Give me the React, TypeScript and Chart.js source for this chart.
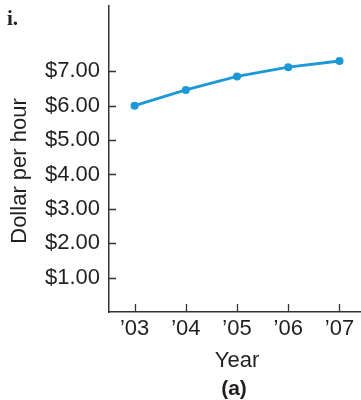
import React, { useEffect, useRef } from "react";
import { Chart, registerables } from "chart.js";

Chart.register(...registerables);

const years = [2003, 2004, 2005, 2006, 2007];
const yearLabels = ["\u201903", "\u201904", "\u201905", "\u201906", "\u201907"];
const wages = [6.0, 6.46, 6.85, 7.12, 7.3];
const yTickValues = [1, 2, 3, 4, 5, 6, 7];
const yTickLabels = ["$1.00", "$2.00", "$3.00", "$4.00", "$5.00", "$6.00", "$7.00"];

const TEXT = "#231f20";
const AXIS = "#333333";
const BLUE = "rgb(27,152,214)";
const SANS = "'Liberation Sans', Arial, sans-serif";

const decorPlugin = {
  id: "decor",
  afterDraw(chart: any) {
    const { ctx, scales } = chart;
    const xs = scales.x;
    const ys = scales.y;
    ctx.save();
    // inward tick marks
    ctx.strokeStyle = AXIS;
    ctx.lineWidth = 1.3;
    ctx.beginPath();
    yTickValues.forEach((v) => {
      const py = Math.round(ys.getPixelForValue(v)) + 0.5;
      ctx.moveTo(ys.right, py);
      ctx.lineTo(ys.right + 7, py);
    });
    years.forEach((v) => {
      const px = Math.round(xs.getPixelForValue(v)) + 0.5;
      ctx.moveTo(px, xs.top);
      ctx.lineTo(px, xs.top - 8);
    });
    ctx.stroke();

    ctx.fillStyle = TEXT;
    // panel letter
    ctx.font = "bold 21px 'Liberation Serif', 'DejaVu Serif', serif";
    ctx.textAlign = "left";
    ctx.textBaseline = "alphabetic";
    ctx.fillText("i.", 7, 25);

    // y title
    ctx.save();
    ctx.translate(26, 171);
    ctx.rotate(-Math.PI / 2);
    ctx.font = "22px " + SANS;
    ctx.textAlign = "center";
    ctx.fillText("Dollar per hour", 0, 0);
    ctx.restore();

    // x title
    ctx.font = "22px " + SANS;
    ctx.textAlign = "center";
    ctx.fillText("Year", 237, 367);
    ctx.font = "bold 21px " + SANS;
    ctx.fillText("(a)", 234, 395);
    ctx.restore();
  },
};

export default function App() {
  const ref = useRef<HTMLCanvasElement>(null);
  useEffect(() => {
    if (!ref.current) return;
    const chart = new Chart(ref.current, {
      type: "line",
      data: {
        datasets: [
          {
            data: years.map((y, i) => ({ x: y, y: wages[i] })),
            borderColor: BLUE,
            backgroundColor: BLUE,
            borderWidth: 2.8,
            pointRadius: 4,
            pointBorderWidth: 0,
            pointBackgroundColor: BLUE,
            tension: 0,
            clip: false,
          },
        ],
      },
      options: {
        animation: false,
        responsive: false,
        maintainAspectRatio: false,
        layout: { autoPadding: false, padding: { top: 6, left: 0, right: 0, bottom: 0 } },
        plugins: { legend: { display: false }, tooltip: { enabled: false } },
        scales: {
          x: {
            type: "linear",
            min: 2002.5,
            max: 2007.42,
            afterFit: (s: any) => {
              s.height = 88;
              s.paddingLeft = 0;
              s.paddingRight = 0;
              s.paddingTop = 0;
              s.paddingBottom = 0;
            },
            afterBuildTicks: (s: any) => {
              s.ticks = years.map((v) => ({ value: v }));
            },
            ticks: {
              callback: (v: any) => {
                const i = years.indexOf(Number(v));
                return i >= 0 ? yearLabels[i] : "";
              },
              font: { size: 22, family: SANS },
              color: TEXT,
              padding: 4,
              maxRotation: 0,
              autoSkip: false,
            },
            grid: { display: false, drawTicks: false },
            border: { display: true, color: AXIS, width: 1.5 },
          },
          y: {
            type: "linear",
            min: 0,
            max: 8.9,
            afterFit: (s: any) => {
              s.width = 109;
              s.paddingLeft = 0;
              s.paddingRight = 0;
              s.paddingTop = 0;
              s.paddingBottom = 0;
            },
            afterBuildTicks: (s: any) => {
              s.ticks = yTickValues.map((v) => ({ value: v }));
            },
            ticks: {
              callback: (v: any) => {
                const i = yTickValues.indexOf(Number(v));
                return i >= 0 ? yTickLabels[i] : "";
              },
              font: { size: 22, family: SANS },
              color: TEXT,
              padding: 9,
              autoSkip: false,
            },
            grid: { display: false, drawTicks: false },
            border: { display: true, color: AXIS, width: 1.5 },
          },
        },
      },
      plugins: [decorPlugin],
    });
    return () => chart.destroy();
  }, []);
  return (
    <div style={{ position: "fixed", left: 0, top: 0, width: 361, height: 400, background: "#fff" }}>
      <canvas ref={ref} width={361} height={400} style={{ display: "block", width: 361, height: 400 }} />
    </div>
  );
}
